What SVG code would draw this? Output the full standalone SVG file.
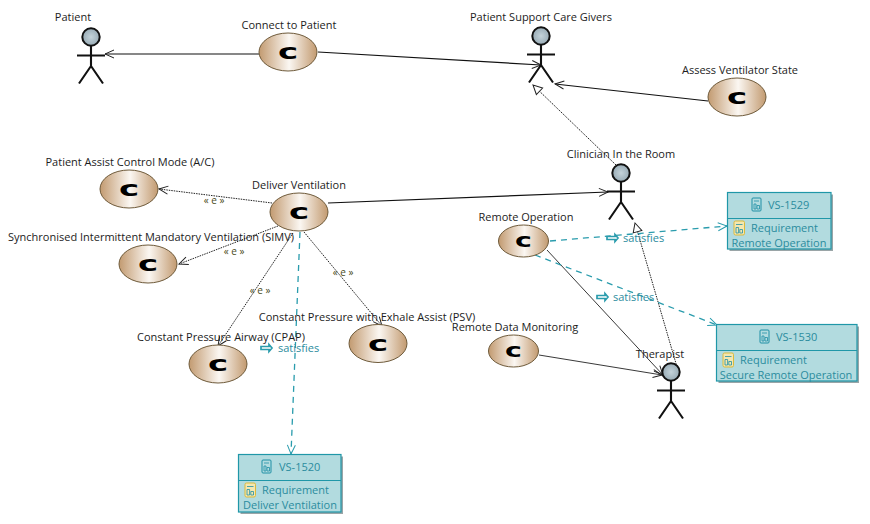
<svg xmlns="http://www.w3.org/2000/svg" width="870" height="524" viewBox="0 0 870 524">
<style>
text{font-family:"Open Sans","Noto Sans","Liberation Sans",sans-serif;font-size:11px;fill:#1c1c1c}
.t{fill:#2b8c9e}
.m{text-anchor:middle}
.e{fill:#4a4a20;font-size:10px}
.u{fill:url(#tan);stroke:#6e5a3a;stroke-width:1}
.cg{font-family:"DejaVu Sans",sans-serif;font-weight:bold;font-size:22px;fill:#000;text-anchor:middle}
.line{fill:none;stroke:#111;stroke-width:1.2}
.thin{fill:none;stroke:#222;stroke-width:.9}
.dot{fill:none;stroke:#222;stroke-width:1;stroke-dasharray:1.5 1}
.sat{fill:none;stroke:#2a9cad;stroke-width:1.3;stroke-dasharray:6 5}
.box{fill:#b2dbdf;stroke:#1f97a8;stroke-width:1.2}
.sh{fill:#9aa5a7}
.div{stroke:#1f97a8;stroke-width:1}
.head{fill:url(#blue);stroke:#111;stroke-width:2}
.limb{fill:none;stroke:#111;stroke-width:2.1}
.sa{fill:#fff;stroke:#2a9cad;stroke-width:1.7}
</style>
<defs>
<linearGradient id="tan" x1="0" x2="1" y1="0" y2="0">
<stop offset="0" stop-color="#c29a70"/><stop offset=".52" stop-color="#fbf7f2"/><stop offset="1" stop-color="#c29a70"/>
</linearGradient>
<radialGradient id="blue" cx=".5" cy=".5" r=".6">
<stop offset="0" stop-color="#c4d3da"/><stop offset="1" stop-color="#8fa3ae"/>
</radialGradient>
<marker id="open" markerUnits="userSpaceOnUse" markerWidth="14" markerHeight="12" refX="11" refY="6" orient="auto">
<path d="M2 2 L11 6 L2 10" fill="none" stroke="#222" stroke-width="1"/>
</marker>
<marker id="openT" markerUnits="userSpaceOnUse" markerWidth="14" markerHeight="12" refX="11" refY="6" orient="auto">
<path d="M2 2 L11 6 L2 10" fill="none" stroke="#2a9cad" stroke-width="1"/>
</marker>
<marker id="tri" markerUnits="userSpaceOnUse" markerWidth="14" markerHeight="14" refX="11" refY="7" orient="auto">
<path d="M2 2.500 L11 7 L2 11.500 Z" fill="#fff" stroke="#222" stroke-width="1"/>
</marker>
<g id="actor">
<circle class="head" cx="0" cy="0" r="8.700"/>
<path class="limb" d="M0 9V29M-14 18.500H14M0 29L-12 46.500M0 29L12 46.500"/>
</g>
<g id="sat-arrow"><path class="sa" d="M0 -1.500H8V-3.500L11 0L8 3.500V1.500H0Z"/></g>
<g id="doc-t"><rect x="0" y="0" width="9" height="13" rx="1" fill="none" stroke="#1f8fa5" stroke-width="1"/><path d="M2 3H7M2 6V11H4V6ZM5 7.500H7.500V11H5Z" fill="none" stroke="#1f8fa5" stroke-width=".8"/></g>
<g id="doc-y"><rect x="0" y="0" width="10.500" height="14" rx="1.500" fill="#f4e7b0" stroke="#d9b93c" stroke-width="1"/><path d="M2 3.500H8.500M2 6.500V12H4.600V6.500ZM5.800 8.500H8.500V12H5.800Z" fill="none" stroke="#1f8fa5" stroke-width=".8"/></g>
</defs>
<rect width="870" height="524" fill="#fff"/>

<g id="connectors">
<path class="line" marker-end="url(#open)" d="M259 54H105"/>
<path class="line" marker-end="url(#open)" d="M318 52L541 65"/>
<path class="line" marker-end="url(#open)" d="M708 101L555 84"/>
<path class="dot" marker-end="url(#tri)" d="M616 165L533 85"/>
<path class="dot" marker-end="url(#tri)" d="M677 367L635 223"/>
<path class="line" marker-end="url(#open)" d="M328 203L608 192"/>
<path class="dot" marker-end="url(#open)" d="M272 203L159 189"/>
<path class="dot" marker-end="url(#open)" d="M278 226L179 264"/>
<path class="dot" marker-end="url(#open)" d="M293 233L218 346"/>
<path class="dot" marker-end="url(#open)" d="M304 232L382 326"/>
<path class="thin" marker-end="url(#open)" d="M547 250L663 375"/>
<path class="thin" marker-end="url(#open)" d="M539 355L662 375"/>
<path class="sat" marker-end="url(#openT)" d="M300 232L291 454"/>
<path class="sat" marker-end="url(#openT)" d="M550 241L727 226"/>
<path class="sat" marker-end="url(#openT)" d="M535 255L717 325"/>
<text class="e" x="214" y="204" text-anchor="middle">« e »</text>
<text class="e" x="234" y="255" text-anchor="middle">« e »</text>
<text class="e" x="260" y="294" text-anchor="middle">« e »</text>
<text class="e" x="343" y="276" text-anchor="middle">« e »</text>
<use href="#sat-arrow" x="607" y="238"/><text class="t" x="623" y="242">satisfies</text>
<use href="#sat-arrow" x="597" y="297"/><text class="t" x="613" y="301">satisfies</text>
<use href="#sat-arrow" x="261" y="348"/><text class="t" x="278" y="352">satisfies</text>
</g>

<g id="actor-patient"><use href="#actor" x="91" y="37"/><text class="m" x="73" y="21">Patient</text></g>
<g id="actor-caregivers"><use href="#actor" x="541" y="36"/><text class="m" x="541" y="21">Patient Support Care Givers</text></g>
<g id="actor-clinician"><use href="#actor" x="621" y="173"/><text class="m" x="621" y="158">Clinician In the Room</text></g>
<g id="actor-therapist"><use href="#actor" x="671" y="372"/><text class="m" x="660" y="358">Therapist</text></g>

<g id="uc-connect"><ellipse class="u" cx="288" cy="52" rx="29" ry="19"/><text class="cg" transform="translate(288 59) scale(1.55 1)">c</text><text class="m" x="289" y="29">Connect to Patient</text></g>
<g id="uc-assess"><ellipse class="u" cx="737" cy="97" rx="29" ry="19"/><text class="cg" transform="translate(737 104) scale(1.55 1)">c</text><text class="m" x="740" y="74">Assess Ventilator State</text></g>
<g id="uc-ac"><ellipse class="u" cx="129" cy="189" rx="29" ry="19"/><text class="cg" transform="translate(129 196) scale(1.55 1)">c</text><text class="m" x="130" y="166">Patient Assist Control Mode (A/C)</text></g>
<g id="uc-deliver"><ellipse class="u" cx="299" cy="212" rx="29" ry="19"/><text class="cg" transform="translate(299 219) scale(1.55 1)">c</text><text class="m" x="299" y="189">Deliver Ventilation</text></g>
<g id="uc-simv"><ellipse class="u" cx="148" cy="264" rx="29" ry="19"/><text class="cg" transform="translate(148 271) scale(1.55 1)">c</text><text class="m" x="151" y="241">Synchronised Intermittent Mandatory Ventilation (SIMV)</text></g>
<g id="uc-cpap"><ellipse class="u" cx="218" cy="364" rx="29" ry="19"/><text class="cg" transform="translate(218 371) scale(1.55 1)">c</text><text class="m" x="221" y="341">Constant Pressure Airway (CPAP)</text></g>
<g id="uc-psv"><ellipse class="u" cx="378" cy="343.500" rx="29" ry="19"/><text class="cg" transform="translate(378 350.500) scale(1.55 1)">c</text><text class="m" x="367" y="321">Constant Pressure with Exhale Assist (PSV)</text></g>
<g id="uc-remote"><ellipse class="u" cx="523.500" cy="241" rx="25" ry="16"/><text class="cg" style="font-size:19px" transform="translate(523.500 247) scale(1.5 1)">c</text><text class="m" x="526" y="221">Remote Operation</text></g>
<g id="uc-monitor"><ellipse class="u" cx="513.500" cy="351" rx="25" ry="16"/><text class="cg" style="font-size:19px" transform="translate(513.500 357) scale(1.5 1)">c</text><text class="m" x="515" y="331">Remote Data Monitoring</text></g>

<g id="req-1520">
<rect class="sh" x="240.500" y="456.500" width="102.500" height="57.500"/>
<rect class="box" x="238.500" y="454.500" width="102.500" height="57.500"/>
<path class="div" d="M238.500 480.500H341"/>
<use href="#doc-t" x="262" y="460"/><text class="t" x="279" y="471">VS-1520</text>
<use href="#doc-y" x="245" y="483"/><text class="t" x="262" y="494">Requirement</text>
<text class="t m" x="290" y="509">Deliver Ventilation</text>
</g>
<g id="req-1529">
<rect class="sh" x="729.500" y="194.500" width="103.500" height="56.500"/>
<rect class="box" x="727.500" y="192.500" width="103.500" height="56.500"/>
<path class="div" d="M727.500 218.500H831"/>
<use href="#doc-t" x="752" y="198"/><text class="t" x="768" y="209">VS-1529</text>
<use href="#doc-y" x="734" y="221"/><text class="t" x="751" y="232">Requirement</text>
<text class="t m" x="779" y="247">Remote Operation</text>
</g>
<g id="req-1530">
<rect class="sh" x="718.500" y="326.500" width="140.500" height="56.500"/>
<rect class="box" x="716.500" y="324.500" width="140.500" height="56.500"/>
<path class="div" d="M716.500 350.500H857"/>
<use href="#doc-t" x="760" y="330"/><text class="t" x="776" y="341">VS-1530</text>
<use href="#doc-y" x="723" y="353"/><text class="t" x="740" y="364">Requirement</text>
<text class="t m" x="786" y="379">Secure Remote Operation</text>
</g>
</svg>
